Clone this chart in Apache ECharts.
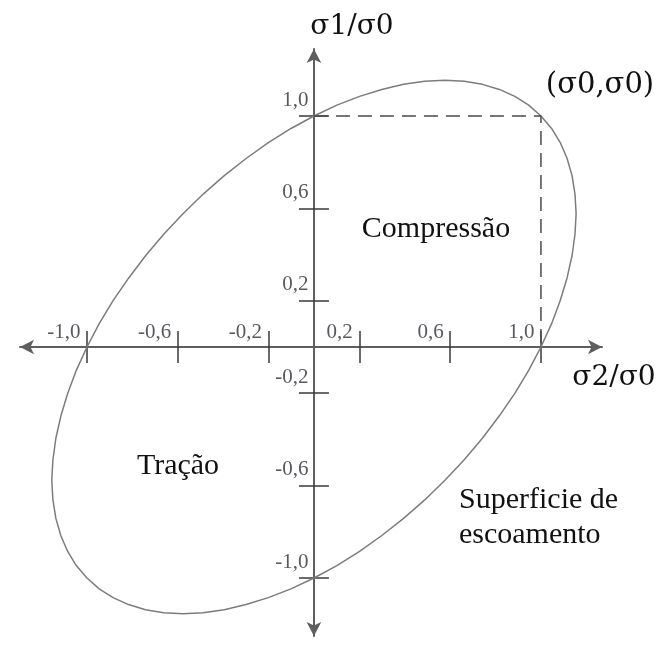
<!DOCTYPE html>
<html>
<head>
<meta charset="utf-8">
<script src="https://cdn.jsdelivr.net/npm/echarts@6/dist/echarts.min.js"></script>
<style>
  html, body { margin: 0; padding: 0; background: #fff; }
  #chart { width: 662px; height: 648px; }
</style>
</head>
<body>
<div id="chart"></div>
<script>
// Tick positions (normalised stress) and their printed labels
const tickValues = [-1.0, -0.6, -0.2, 0.2, 0.6, 1.0];
const tickLabels = ['-1,0', '-0,6', '-0,2', '0,2', '0,6', '1,0'];

// Yield surface outline: σ2/σ0 and σ1/σ0 pairs going once around the curve
const surfaceS2 = [
   1.000,  0.946,  0.885,  0.817,  0.742,  0.662,  0.577,  0.488,  0.395,  0.299,  0.201,  0.101,
   0.000, -0.101, -0.201, -0.299, -0.395, -0.488, -0.577, -0.662, -0.742, -0.816, -0.885, -0.946,
  -1.000, -1.047, -1.085, -1.115, -1.137, -1.150, -1.155, -1.150, -1.137, -1.115, -1.085, -1.047,
  -1.000, -0.946, -0.885, -0.817, -0.742, -0.662, -0.577, -0.488, -0.395, -0.299, -0.201, -0.101,
   0.000,  0.101,  0.201,  0.299,  0.395,  0.488,  0.577,  0.662,  0.742,  0.816,  0.885,  0.946,
   1.000,  1.047,  1.085,  1.115,  1.137,  1.150,  1.155,  1.150,  1.137,  1.115,  1.085,  1.047,
   1.000
];
const surfaceS1 = [
   1.000,  1.047,  1.085,  1.115,  1.137,  1.150,  1.155,  1.150,  1.137,  1.115,  1.085,  1.047,
   1.000,  0.946,  0.885,  0.816,  0.742,  0.662,  0.577,  0.488,  0.395,  0.299,  0.201,  0.101,
   0.000, -0.101, -0.201, -0.299, -0.395, -0.488, -0.577, -0.662, -0.742, -0.817, -0.885, -0.946,
  -1.000, -1.047, -1.085, -1.115, -1.137, -1.150, -1.155, -1.150, -1.137, -1.115, -1.085, -1.047,
  -1.000, -0.946, -0.885, -0.816, -0.742, -0.662, -0.577, -0.488, -0.395, -0.299, -0.201, -0.101,
   0.000,  0.101,  0.201,  0.299,  0.395,  0.488,  0.577,  0.662,  0.742,  0.817,  0.885,  0.946,
   1.000
];

// Dashed guide to the biaxial point (σ0, σ0)
const guideS2 = [0, 1, 1];
const guideS1 = [1, 1, 0];

const zip = (a, b) => a.map((v, i) => [v, b[i]]);
const labelFor = v => {
  const i = tickValues.findIndex(t => Math.abs(t - v) < 1e-6);
  return i >= 0 ? tickLabels[i] : '';
};

const AXIS_COLOR = '#5e5e5e';
const TICK_COLOR = '#3a3a3a';
const SERIF = '"Liberation Serif", "Times New Roman", serif';
const LABEL_COLOR = '#2c2f36';

const xRange = { min: -1.295, max: 1.269 };
const yRange = { min: -1.251, max: 1.290 };

// Each direction uses two coincident axes so the tick marks cross the axis line
function xAxisDef(isMain) {
  return {
    type: 'value',
    position: isMain ? 'bottom' : 'top',
    min: xRange.min, max: xRange.max,
    splitLine: { show: false },
    axisLine: {
      show: true, onZero: true, onZeroAxisIndex: 0,
      symbol: isMain ? ['arrow', 'arrow'] : 'none',
      symbolSize: [11, 14],
      lineStyle: { color: AXIS_COLOR, width: 2, opacity: isMain ? 1 : 0 }
    },
    axisTick: {
      show: true, customValues: tickValues, length: 16, inside: false,
      lineStyle: { color: TICK_COLOR, width: 1.5 }
    },
    axisLabel: { show: false }
  };
}

function yAxisDef(isMain) {
  return {
    type: 'value',
    position: isMain ? 'left' : 'right',
    min: yRange.min, max: yRange.max,
    splitLine: { show: false },
    axisLine: {
      show: true, onZero: true, onZeroAxisIndex: 0,
      symbol: isMain ? ['arrow', 'arrow'] : 'none',
      symbolSize: [11, 14],
      lineStyle: { color: AXIS_COLOR, width: 2, opacity: isMain ? 1 : 0 }
    },
    axisTick: {
      show: true, customValues: tickValues, length: 15, inside: false,
      lineStyle: { color: TICK_COLOR, width: 1.5 }
    },
    axisLabel: { show: false }
  };
}

// Tick labels sit just above-left of each tick, next to the axis line
function tickLabelSeries(name, points, offset) {
  return {
    name: name,
    type: 'scatter',
    data: points,
    symbolSize: 1,
    itemStyle: { color: 'rgba(0,0,0,0)' },
    silent: true,
    z: 5,
    label: {
      show: true,
      position: offset,
      align: 'right',
      verticalAlign: 'bottom',
      fontFamily: SERIF,
      fontSize: 21,
      color: LABEL_COLOR,
      formatter: p => labelFor(p.value[2])
    }
  };
}

const chart = echarts.init(document.getElementById('chart'), null, { renderer: 'canvas' });

chart.setOption({
  backgroundColor: '#ffffff',
  animation: false,
  grid: { left: 20, top: 49, width: 582, height: 587, containLabel: false, outerBoundsMode: 'none' },
  xAxis: [xAxisDef(true), xAxisDef(false)],
  yAxis: [yAxisDef(true), yAxisDef(false)],
  series: [
    {
      name: 'Superficie de escoamento',
      type: 'line',
      data: zip(surfaceS2, surfaceS1),
      smooth: false,
      showSymbol: false,
      lineStyle: { color: '#7c7c7c', width: 1.5 },
      z: 3
    },
    {
      name: 'guia',
      type: 'line',
      data: zip(guideS2, guideS1),
      showSymbol: false,
      lineStyle: { color: '#4a4a4a', width: 1.5, type: [14, 8] },
      z: 3
    },
    tickLabelSeries('rótulos σ2', tickValues.map(v => [v, 0, v]), [-6, -4]),
    tickLabelSeries('rótulos σ1', tickValues.map(v => [0, v, v]), [-5, -5])
  ],
  graphic: [
    { type: 'text', x: 352, y: 27, style: { text: 'σ1/σ0', font: '28px "DejaVu Serif", serif', fill: '#111', align: 'center', verticalAlign: 'middle' } },
    { type: 'text', x: 600, y: 85, style: { text: '(σ0,σ0)', font: '29px "DejaVu Serif", serif', fill: '#111', align: 'center', verticalAlign: 'middle' } },
    { type: 'text', x: 614, y: 378, style: { text: 'σ2/σ0', font: '28px "DejaVu Serif", serif', fill: '#111', align: 'center', verticalAlign: 'middle' } },
    { type: 'text', x: 436, y: 229, style: { text: 'Compressão', font: '30px ' + SERIF, fill: '#111', align: 'center', verticalAlign: 'middle' } },
    { type: 'text', x: 178, y: 466, style: { text: 'Tração', font: '30px ' + SERIF, fill: '#111', align: 'center', verticalAlign: 'middle' } },
    { type: 'text', x: 459, y: 500, style: { text: 'Superficie de', font: '30px ' + SERIF, fill: '#111', align: 'left', verticalAlign: 'middle' } },
    { type: 'text', x: 459, y: 535, style: { text: 'escoamento', font: '30px ' + SERIF, fill: '#111', align: 'left', verticalAlign: 'middle' } }
  ]
});
</script>
</body>
</html>
